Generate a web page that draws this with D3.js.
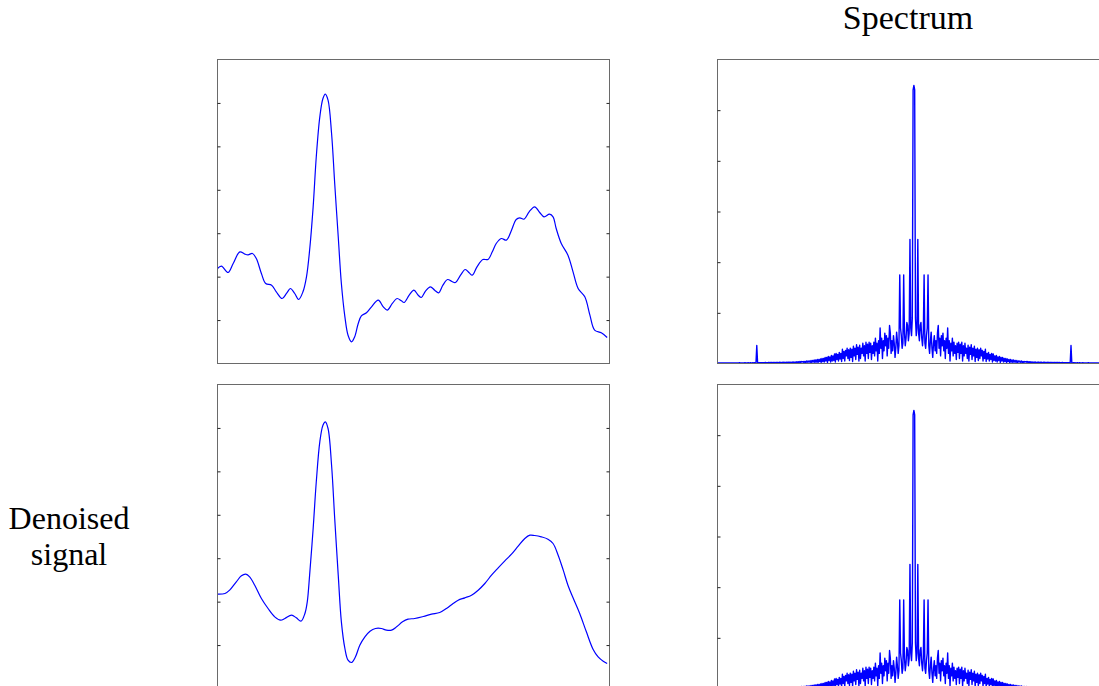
<!DOCTYPE html>
<html>
<head>
<meta charset="utf-8">
<script src="https://cdn.jsdelivr.net/npm/d3@7"></script>
<style>
  html, body { margin: 0; padding: 0; background: #fff; }
  svg { display: block; }
</style>
</head>
<body>
<svg id="chart" width="1099" height="686"></svg>
<script>
// ---------------- DATA ----------------
// time (ms) of the samples read off the noisy signal, and their values
const noisyTime = [0,10,27,40,57,70,78,89,99,112,123,138,150,165,176,186,197,207,218,227,235,244,252,261,269,275,282,291,299,308,316,325,333,342,350,359,367,380,393,410,423,433,446,458,469,476,489,501,512,520,531,543,554,564,575,587,598,607,620,632,642,650,662,677,690,701,711,724,737,750,762,771,782,795,809,822,833,847,856,864,877,894,907,920,937,950,962,979,994];
const noisyValue = [2.187,2.241,2.095,2.303,2.571,2.517,2.502,2.533,2.418,2.072,1.842,1.804,1.650,1.497,1.612,1.727,1.612,1.474,1.650,1.996,2.610,3.607,4.759,5.680,6.102,6.201,6.063,5.296,4.145,2.917,1.842,1.075,0.652,0.499,0.614,0.921,1.098,1.167,1.305,1.458,1.305,1.228,1.382,1.497,1.443,1.405,1.573,1.689,1.573,1.520,1.673,1.765,1.689,1.627,1.804,1.934,1.888,1.865,2.034,2.164,2.088,2.034,2.226,2.395,2.395,2.571,2.763,2.878,2.840,3.070,3.316,3.354,3.323,3.492,3.607,3.477,3.377,3.438,3.377,3.108,2.763,2.494,2.111,1.727,1.535,1.113,0.768,0.706,0.599];

// time (ms) and values of the denoised signal
const cleanTime = [0,19,31,48,61,72,82,95,112,129,146,161,172,189,201,213,223,229,235,244,252,261,269,275,282,291,299,308,316,325,333,342,352,363,376,389,403,418,431,444,457,472,486,503,525,546,567,584,601,614,631,648,665,682,699,716,733,750,767,784,797,809,826,843,856,869,882,894,907,924,941,958,971,984,994];
const cleanValue = [2.172,2.187,2.264,2.456,2.594,2.633,2.571,2.379,2.072,1.842,1.650,1.573,1.612,1.689,1.627,1.550,1.727,1.996,2.610,3.684,4.759,5.680,6.063,6.140,5.987,5.142,3.914,2.610,1.535,0.921,0.652,0.599,0.729,0.998,1.190,1.320,1.382,1.382,1.343,1.343,1.420,1.535,1.596,1.612,1.658,1.711,1.750,1.842,1.957,2.034,2.088,2.149,2.264,2.418,2.610,2.778,2.940,3.093,3.277,3.454,3.531,3.523,3.492,3.438,3.339,3.070,2.725,2.379,2.088,1.727,1.305,0.906,0.729,0.629,0.576];

// magnitude spectrum, bins 0..249 (spectrum of a real signal is symmetric)
const spectrumHalf = [
 5.49,5.40,0.90,0.55,0.70,2.45,0.60,0.45,0.75,0.81,
 0.50,0.35,0.60,1.75,0.40,0.30,0.55,0.70,1.75,0.35,
 0.20,0.45,0.62,0.30,0.12,0.40,0.55,0.25,0.45,0.20,
 0.60,0.75,0.30,0.50,0.15,0.55,0.35,0.60,0.25,0.45,
 0.10,0.50,0.30,0.70,0.20,0.45,0.05,0.40,0.25,0.50,
 0.15,0.42,0.20,0.35,0.08,0.40,0.22,0.42,0.10,0.38,
 0.20,0.42,0.05,0.35,0.15,0.40,0.20,0.30,0.10,0.36,
 0.05,0.32,0.18,0.37,0.08,0.30,0.15,0.34,0.04,0.28,
 0.12,0.30,0.06,0.27,0.10,0.30,0.15,0.26,0.05,0.24,
 0.10,0.28,0.04,0.20,0.09,0.22,0.05,0.18,0.08,0.20,
 0.03,0.19,0.06,0.15,0.05,0.16,0.03,0.13,0.06,0.14,
 0.02,0.12,0.05,0.12,0.03,0.10,0.04,0.10,0.02,0.09,
 0.04,0.08,0.02,0.08,0.03,0.07,0.02,0.07,0.03,0.06,
 0.02,0.06,0.02,0.05,0.03,0.05,0.02,0.05,0.02,0.04,
 0.02,0.04,0.03,0.04,0.02,0.04,0.02,0.035,0.015,0.035,
 0.02,0.03,0.015,0.03,0.02,0.03,0.015,0.025,0.02,0.03,
 0.015,0.025,0.02,0.025,0.015,0.025,0.02,0.025,0.015,0.02,
 0.02,0.025,0.015,0.02,0.02,0.02,0.015,0.02,0.015,0.02,
 0.015,0.02,0.015,0.02,0.015,0.02,0.015,0.015,0.015,0.02,
 0.015,0.015,0.015,0.015,0.015,0.015,0.015,0.015,0.015,0.02,
 0.355,0.015,0.01,0.015,0.01,0.015,0.01,0.01,0.015,0.01,
 0.01,0.015,0.01,0.01,0.01,0.015,0.01,0.01,0.01,0.01,
 0.01,0.01,0.015,0.01,0.01,0.01,0.01,0.01,0.01,0.01,
 0.01,0.01,0.01,0.01,0.01,0.01,0.01,0.01,0.01,0.01,
 0.01,0.01,0.01,0.01,0.01,0.01,0.01,0.01,0.01,0.01
];
const spectrumBins = 500;          // bins -250 .. 249
const cutoffBin = 143;             // low-pass cut used for the denoised spectrum

const signalTicks = [1,2,3,4,5,6];
const signalDomain = [0, 7];
const timeDomain = [0, 1000];
const spectrumTicks = [1,2,3,4,5];
const spectrumDomain = [0, 6];

const colTitle = "Spectrum";
const rowTitle = ["Denoised", "signal"];

const serif = "'Liberation Serif', 'Times New Roman', Tinos, 'DejaVu Serif', 'Noto Serif', serif";

// ---------------- BUILD ----------------
const bins = d3.range(-spectrumBins/2, spectrumBins/2);
const noisySpectrum = bins.map(k => ({k, v: spectrumHalf[Math.min(Math.abs(k), spectrumHalf.length-1)]}));
const cleanSpectrum = noisySpectrum.map(d => ({k: d.k, v: Math.abs(d.k) <= cutoffBin ? d.v : 0}));
const noisySignal = noisyTime.map((t,i) => ({t, v: noisyValue[i]}));
const cleanSignal = cleanTime.map((t,i) => ({t, v: cleanValue[i]}));

const svg = d3.select("#chart");
const W = 392, H = 304;
const panels = [
  {x: 217.5, y: 59.5,  type: "signal",   data: noisySignal},
  {x: 717.5, y: 59.5,  type: "spectrum", data: noisySpectrum},
  {x: 217.5, y: 384.5, type: "signal",   data: cleanSignal},
  {x: 717.5, y: 384.5, type: "spectrum", data: cleanSpectrum}
];

panels.forEach((p, i) => {
  const g = svg.append("g").attr("transform", `translate(${p.x},${p.y})`);
  let x, y, ticks, line;
  if (p.type === "signal") {
    x = d3.scaleLinear().domain(timeDomain).range([0, W]);
    y = d3.scaleLinear().domain(signalDomain).range([H, 0]);
    ticks = signalTicks;
    line = d3.line().x(d => x(d.t)).y(d => y(d.v)).curve(d3.curveCatmullRom.alpha(0.5));
  } else {
    x = d3.scaleLinear().domain([-spectrumBins/2, spectrumBins/2 - 1]).range([0, W]);
    y = d3.scaleLinear().domain(spectrumDomain).range([H, 0]);
    ticks = spectrumTicks;
    line = d3.line().x(d => x(d.k)).y(d => y(d.v));
  }
  const clipId = "clip" + i;
  g.append("clipPath").attr("id", clipId).append("rect")
    .attr("x", 0).attr("y", 0).attr("width", W).attr("height", H);

  g.append("path").datum(p.data)
    .attr("clip-path", `url(#${clipId})`)
    .attr("d", line)
    .attr("fill", "none")
    .attr("stroke", "#0000ff")
    .attr("stroke-width", p.type === "signal" ? 1.2 : 1.4)
    .attr("stroke-linejoin", "round");

  // frame
  g.append("rect").attr("x", 0).attr("y", 0).attr("width", W).attr("height", H)
    .attr("fill", "none").attr("stroke", "#6a6a6a").attr("stroke-width", 1);

  // inward ticks left and right
  const left = g.append("g").call(d3.axisLeft(y).tickValues(ticks).tickSize(-3).tickFormat(""));
  const right = g.append("g").attr("transform", `translate(${W},0)`)
    .call(d3.axisRight(y).tickValues(ticks).tickSize(-3).tickFormat(""));
  [left, right].forEach(a => {
    a.select(".domain").remove();
    a.selectAll(".tick line").attr("stroke", "#222").attr("stroke-width", 1);
  });
});

// titles
svg.append("text").attr("x", 908).attr("y", 29)
  .attr("text-anchor", "middle").attr("font-size", 34)
  .attr("font-family", serif).attr("fill", "#000").text(colTitle);
const rt = svg.append("text").attr("x", 69).attr("y", 529)
  .attr("text-anchor", "middle").attr("font-size", 32)
  .attr("font-family", serif).attr("fill", "#000");
rt.append("tspan").attr("x", 69).attr("dy", 0).text(rowTitle[0]);
rt.append("tspan").attr("x", 69).attr("dy", 36).text(rowTitle[1]);
</script>
</body>
</html>
